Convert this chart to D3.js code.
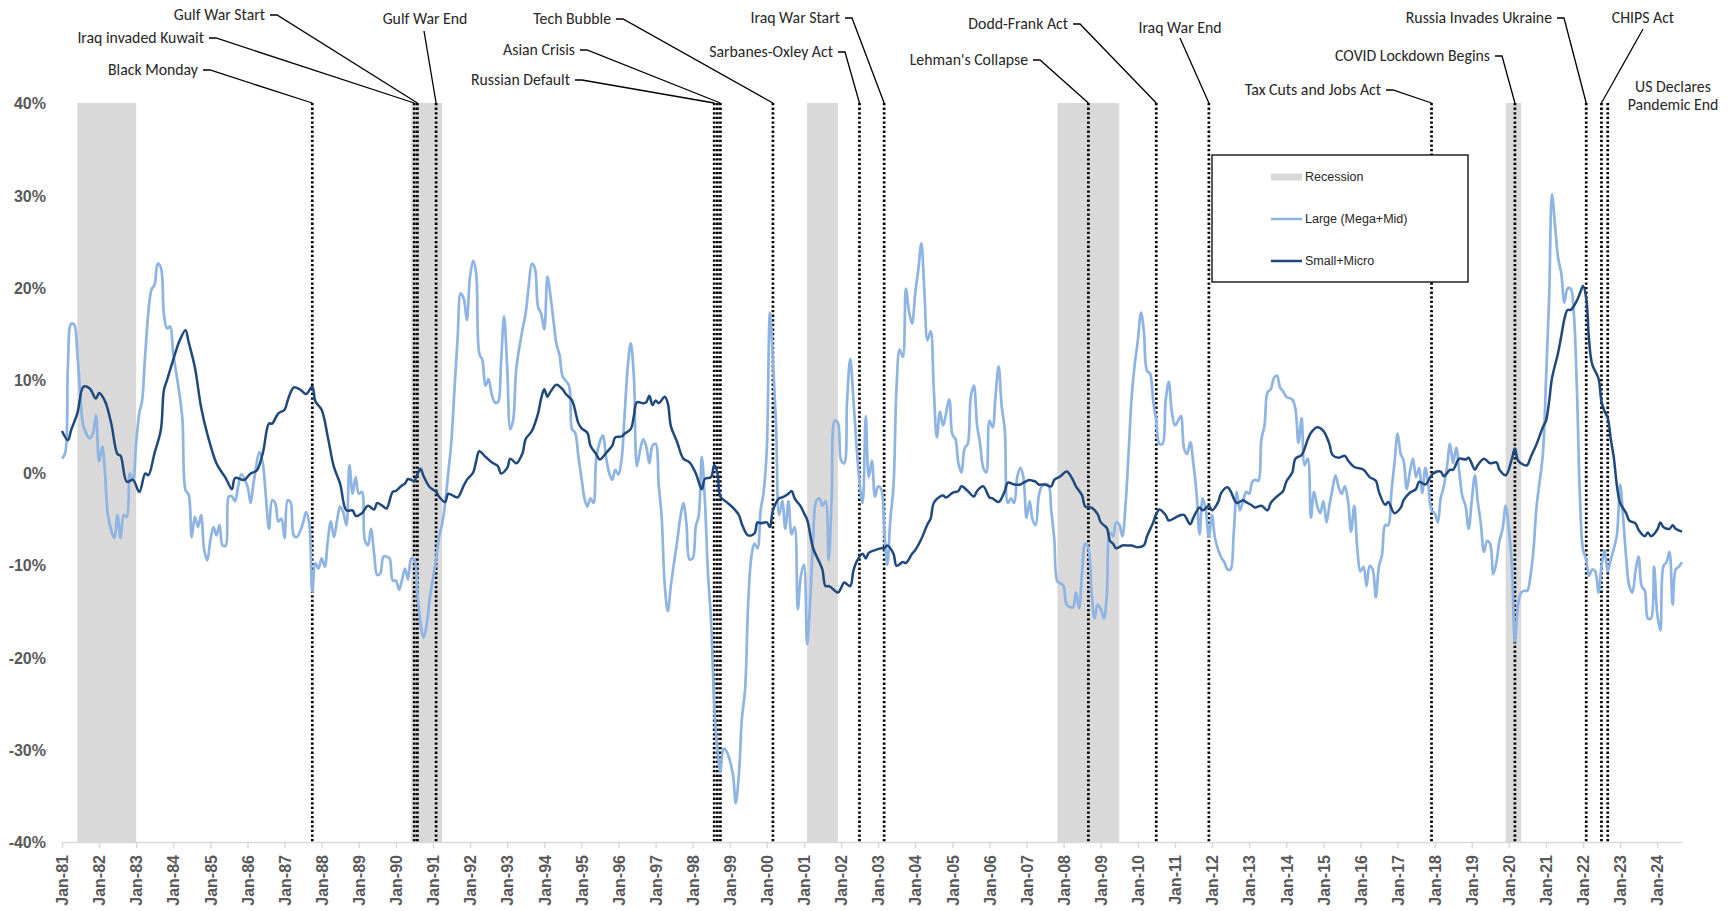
<!DOCTYPE html>
<html>
<head>
<meta charset="utf-8">
<script src="https://cdn.jsdelivr.net/npm/d3@7"></script>
<style>
  body { margin: 0; background: #fff; }
  .tick-label { font-family: "Liberation Sans", Arial, sans-serif; font-weight: bold; font-size: 16px; fill: #595959; }
  .note { font-family: Carlito, Lato, "Open Sans", sans-serif; font-size: 15.8px; fill: #262626; }
  .legend-text { font-family: "Liberation Sans", Arial, sans-serif; font-size: 12.5px; fill: #262626; }
</style>
</head>
<body>
<div id="chart"></div>
<script>
// series values: [months since Jan-81, % value]
const largeSeries = [[0,1.5],[1,2.1],[2,11.8],[3,16.1],[4,16.0],[5,12.9],[6,8.2],[7,5.0],[9,3.7],[10,4.2],[11,6.2],[12,1.2],[13,2.8],[14,-0.1],[15,-4.8],[17,-7.1],[18,-4.6],[19,-7.1],[20,-4.6],[21,-4.8],[22,-0.1],[23,-0.8],[24,3.2],[25,6.4],[26,7.8],[27,12.9],[29,19.8],[30,20.3],[31,22.6],[32,22.2],[33,17.2],[34,15.6],[35,15.8],[36,12.9],[38,8.6],[39,5.7],[40,-1.9],[41,-2.4],[42,-7.0],[43,-4.8],[44,-5.9],[45,-4.6],[46,-8.4],[47,-9.5],[48,-7.3],[49,-5.9],[50,-6.8],[51,-5.7],[52,-7.9],[53,-7.9],[54,-2.6],[55,-2.6],[56,-3.1],[57,-1.5],[58,-0.2],[60,-1.5],[61,-3.3],[62,-1.2],[64,2.2],[65,1.0],[66,-2.6],[67,-6.1],[68,-3.0],[69,-3.3],[70,-5.3],[71,-5.0],[72,-7.1],[73,-3.0],[74,-3.2],[75,-6.8],[76,-7.0],[78,-5.5],[79,-4.3],[80,-5.5],[81,-12.9],[82,-9.8],[83,-10.4],[84,-9.3],[85,-10.2],[86,-7.5],[87,-5.3],[88,-7.0],[89,-5.2],[90,-3.7],[91,-4.3],[92,-5.7],[93,0.8],[94,-2.3],[95,-0.5],[96,-2.3],[97,-2.1],[98,-7.3],[99,-7.9],[100,-6.1],[101,-8.8],[102,-11.1],[103,-10.9],[104,-9.1],[105,-9.1],[106,-9.3],[107,-11.7],[108,-11.7],[109,-12.7],[110,-11.7],[111,-10.4],[112,-11.6],[113,-9.3],[114,-9.4],[115,-13.1],[116,-16.4],[117,-17.9],[118,-16.4],[119,-13.6],[121,-9.4],[122,-7.0],[123,-5.6],[124,-3.3],[125,0.0],[126,3.3],[127,9.0],[128,14.6],[129,19.4],[130,18.8],[131,16.5],[132,21.2],[133,22.9],[134,21.6],[135,12.9],[136,12.2],[137,9.4],[138,10.1],[139,8.5],[140,7.6],[141,7.6],[142,11.8],[143,16.9],[144,11.3],[145,4.7],[146,5.7],[147,11.3],[149,15.5],[150,17.2],[151,20.2],[152,22.6],[153,22.1],[154,17.9],[155,17.2],[156,15.5],[157,21.2],[158,19.3],[159,16.5],[160,13.9],[161,12.7],[162,10.4],[164,9.4],[165,4.7],[166,4.3],[167,1.9],[168,-0.5],[169,-2.8],[170,-3.7],[171,-2.8],[172,-3.3],[173,1.9],[175,4.0],[176,1.7],[177,0.0],[178,-0.8],[179,0.3],[180,-0.2],[181,1.4],[182,6.1],[183,11.3],[184,14.0],[185,10.4],[186,0.7],[187,2.4],[188,3.6],[189,2.8],[190,1.0],[191,2.9],[192,3.1],[193,-1.4],[194,-4.7],[195,-12.2],[196,-15.0],[197,-12.2],[198,-9.8],[199,-7.5],[200,-4.9],[201,-3.3],[202,-5.6],[203,-9.4],[204,-9.3],[205,-5.8],[206,-4.7],[207,1.7],[208,-3.0],[209,-11.0],[210,-16.0],[211,-25.0],[212,-30.0],[213,-32.4],[214,-29.9],[215,-30.2],[217,-32.7],[218,-35.8],[219,-32.7],[220,-26.6],[221,-23.5],[222,-14.3],[223,-9.2],[224,-7.7],[225,-8.2],[226,-4.1],[227,-2.1],[228,2.6],[229,17.3],[230,12.3],[231,5.1],[232,-4.6],[233,-3.1],[234,-6.1],[235,-3.1],[236,-6.7],[237,-5.9],[238,-14.8],[239,-11.2],[240,-10.0],[241,-18.6],[242,-14.3],[243,-7.2],[244,-3.1],[245,-2.8],[246,-3.6],[247,-3.1],[248,-9.5],[249,-2.6],[250,5.6],[251,5.4],[252,1.3],[253,1.0],[254,7.7],[255,12.3],[256,8.2],[257,3.1],[258,-1.0],[259,-3.3],[260,6.1],[261,-0.5],[262,1.3],[263,-2.6],[264,-1.5],[265,-1.8],[266,-6.1],[267,-10.0],[268,-5.1],[269,-1.5],[270,9.2],[271,13.3],[272,12.5],[273,19.9],[274,17.4],[275,16.1],[276,19.4],[277,22.0],[278,24.8],[279,19.4],[280,14.3],[281,15.3],[282,9.2],[283,3.8],[284,6.6],[285,5.1],[287,7.9],[288,4.1],[289,3.6],[290,1.0],[291,0.0],[292,2.6],[293,3.1],[294,8.2],[295,9.4],[296,5.1],[297,3.1],[298,0.5],[299,0.0],[300,5.6],[301,4.9],[302,8.2],[303,11.5],[304,7.2],[305,4.6],[306,-3.3],[307,-2.8],[308,-3.3],[309,-0.5],[310,0.5],[311,-0.5],[312,-4.9],[313,-3.1],[314,-5.1],[315,-5.7],[316,-2.6],[317,-1.5],[319,-1.3],[320,-4.1],[321,-7.2],[322,-11.8],[323,-12.0],[324,-12.3],[325,-14.3],[327,-14.6],[328,-13.0],[329,-14.7],[330,-10.7],[331,-7.7],[332,-8.2],[333,-12.8],[334,-15.8],[335,-14.3],[336,-14.8],[337,-15.8],[338,-13.3],[339,-6.5],[340,-6.9],[341,-5.4],[342,-5.6],[343,-6.9],[344,-3.6],[345,2.0],[346,8.2],[347,11.7],[348,14.3],[349,17.3],[350,15.3],[351,11.0],[352,10.7],[353,7.7],[354,5.6],[355,3.1],[356,3.1],[357,7.7],[358,9.8],[359,6.6],[360,5.1],[361,5.6],[362,6.1],[363,2.6],[364,2.0],[365,3.3],[366,1.0],[367,-2.1],[368,-6.7],[369,-2.8],[370,-4.1],[371,-7.0],[372,-4.6],[373,-7.2],[375,-9.2],[376,-9.7],[377,-10.5],[378,-10.5],[379,-6.7],[380,-2.1],[381,-4.1],[382,-3.1],[383,-2.1],[384,-2.3],[385,-1.0],[386,-0.8],[387,-0.9],[388,3.6],[389,5.1],[390,8.7],[391,9.0],[392,10.2],[393,10.5],[394,9.2],[395,8.8],[396,8.2],[398,7.9],[399,6.9],[400,3.2],[401,5.9],[402,0.8],[403,1.5],[404,-4.9],[405,-2.1],[406,-3.6],[407,-4.4],[408,-3.1],[409,-5.4],[410,-3.6],[411,-1.8],[412,-0.3],[413,-1.6],[414,-2.3],[415,-1.5],[416,-3.1],[417,-6.4],[418,-3.6],[419,-8.2],[420,-10.7],[421,-10.2],[422,-12.3],[423,-10.1],[424,-10.5],[425,-13.5],[426,-10.2],[427,-8.9],[428,-5.7],[429,-5.7],[430,-2.1],[431,1.0],[432,4.2],[433,2.0],[434,1.3],[435,-1.8],[436,0.0],[437,1.5],[438,-0.5],[439,0.5],[440,-2.2],[441,0.5],[442,-1.5],[443,-4.1],[444,-4.4],[445,-5.4],[446,-2.8],[447,-1.5],[448,0.5],[449,3.1],[450,1.0],[451,2.7],[452,0.0],[453,-2.6],[454,-3.6],[455,-6.1],[456,-3.1],[457,-0.3],[458,-3.1],[459,-5.6],[460,-8.6],[461,-7.4],[462,-7.7],[463,-11.0],[464,-9.7],[465,-7.4],[466,-6.1],[467,-3.6],[468,-6.1],[469,-10.2],[470,-18.3],[471,-14.3],[472,-13.0],[473,-12.8],[474,-12.8],[475,-11.2],[476,-8.2],[477,-3.6],[479,2.0],[480,10.0],[481,18.9],[482,30.1],[483,26.6],[484,23.2],[485,21.5],[486,18.4],[487,19.9],[488,19.9],[489,17.4],[490,9.2],[491,-2.6],[492,-8.4],[493,-9.4],[494,-11.2],[495,-10.5],[496,-10.7],[497,-13.0],[498,-10.2],[499,-8.4],[500,-10.7],[501,-9.4],[502,-8.2],[503,-6.7],[504,-1.3],[505,-5.1],[506,-9.2],[507,-12.3],[508,-13.0],[509,-10.7],[510,-9.1],[511,-12.3],[512,-12.8],[513,-15.8],[514,-15.8],[515,-10.2],[516,-15.3],[517,-17.1],[518,-10.2],[519,-9.7],[520,-8.6],[521,-14.3],[522,-10.5],[523,-10.2],[524,-9.7]];

const smallSeries = [[0,4.5],[2,3.5],[3,4.6],[5,6.4],[7,9.3],[9,9.1],[11,8.0],[12,8.6],[14,7.7],[16,5.3],[18,2.0],[19,1.8],[21,-1.0],[23,-0.8],[25,-2.1],[27,-0.1],[28,-0.3],[30,2.1],[32,4.6],[33,8.9],[34,10.0],[37,13.3],[38,14.2],[40,15.4],[41,14.1],[43,11.4],[45,7.1],[47,4.2],[50,1.0],[52,-0.1],[53,-0.6],[55,-1.8],[56,-0.6],[59,-0.8],[61,-0.1],[63,0.2],[65,2.1],[67,5.3],[68,5.3],[70,6.4],[72,6.8],[73,7.8],[75,9.2],[77,9.0],[79,8.5],[81,9.3],[82,7.7],[84,6.8],[86,3.9],[88,0.6],[90,-1.2],[92,-4.1],[94,-4.1],[95,-4.7],[97,-4.4],[99,-3.6],[101,-4.0],[102,-3.3],[104,-3.7],[105,-3.9],[107,-2.1],[108,-2.0],[110,-1.4],[111,-1.2],[112,-0.7],[114,-0.9],[115,-0.2],[116,0.4],[117,-0.4],[119,-1.6],[121,-2.1],[122,-2.6],[124,-3.2],[125,-2.3],[127,-2.6],[128,-2.7],[130,-1.4],[131,-0.8],[133,0.0],[134,1.2],[135,2.3],[137,1.7],[139,1.1],[141,0.7],[142,-0.1],[144,0.5],[145,1.5],[147,1.0],[149,2.1],[150,3.6],[152,4.5],[154,6.4],[155,8.0],[156,9.0],[157,8.2],[158,8.7],[160,9.5],[162,9.0],[163,8.5],[165,7.8],[167,5.4],[168,4.8],[170,4.3],[171,2.9],[173,1.9],[174,1.4],[176,2.1],[178,2.9],[179,3.8],[181,3.9],[182,4.2],[184,4.7],[185,6.1],[186,7.6],[188,7.5],[189,7.6],[190,8.3],[191,7.3],[192,7.8],[193,7.5],[195,8.2],[196,7.5],[197,5.0],[199,3.3],[201,1.5],[203,1.1],[205,-0.1],[207,-1.8],[208,-0.7],[210,-0.5],[211,0.8],[212,0.0],[213,-2.6],[215,-3.2],[217,-3.8],[219,-4.6],[220,-5.6],[222,-6.8],[224,-6.6],[225,-5.4],[226,-5.5],[228,-5.4],[229,-5.9],[230,-4.1],[232,-2.8],[233,-2.7],[235,-2.3],[236,-2.0],[237,-2.8],[239,-3.7],[240,-4.4],[241,-5.1],[243,-8.2],[245,-9.7],[246,-10.5],[247,-12.3],[248,-12.3],[249,-12.5],[251,-13.0],[252,-12.5],[253,-11.9],[255,-12.3],[256,-10.7],[257,-9.7],[259,-8.8],[260,-9.3],[261,-8.7],[263,-8.4],[265,-8.2],[266,-8.2],[267,-7.9],[269,-8.8],[270,-10.1],[272,-9.7],[273,-9.8],[275,-8.8],[276,-8.4],[278,-7.2],[280,-5.6],[281,-5.0],[282,-3.3],[284,-2.6],[285,-2.5],[286,-2.7],[288,-2.2],[290,-2.0],[291,-1.5],[293,-2.0],[295,-2.6],[296,-2.0],[298,-1.5],[300,-2.7],[301,-2.8],[303,-3.2],[305,-2.0],[306,-1.1],[308,-1.3],[310,-1.3],[311,-1.1],[313,-0.8],[314,-0.9],[315,-1.0],[316,-1.3],[318,-1.3],[320,-1.5],[321,-0.8],[323,-0.4],[325,0.1],[327,-0.8],[328,-1.5],[330,-2.5],[331,-3.7],[333,-3.8],[335,-4.5],[336,-5.4],[338,-6.0],[339,-7.4],[340,-7.7],[341,-8.2],[343,-7.9],[345,-7.9],[346,-7.9],[348,-8.1],[350,-7.9],[351,-6.9],[353,-5.4],[354,-4.5],[355,-4.0],[357,-4.6],[358,-5.2],[360,-4.9],[362,-4.6],[363,-4.6],[365,-5.6],[366,-4.9],[368,-3.8],[369,-4.1],[371,-3.6],[372,-4.1],[374,-3.2],[375,-2.2],[377,-1.6],[378,-2.0],[380,-3.3],[382,-3.0],[383,-3.2],[385,-3.6],[386,-3.8],[388,-3.6],[390,-4.1],[391,-3.3],[393,-2.6],[395,-2.0],[396,-1.0],[398,0.0],[399,1.5],[401,1.9],[403,3.6],[404,4.3],[406,4.9],[408,4.5],[410,3.1],[411,1.9],[413,1.6],[415,1.8],[416,1.3],[418,0.6],[419,0.5],[421,0.3],[423,-0.5],[425,-0.9],[426,-2.1],[428,-3.5],[429,-3.2],[431,-4.4],[433,-3.8],[434,-3.0],[436,-2.2],[438,-1.8],[439,-1.0],[441,-1.3],[443,-0.3],[444,0.0],[446,0.1],[447,-0.4],[449,0.3],[450,0.3],[452,1.5],[454,1.4],[455,1.6],[457,0.3],[458,0.8],[460,1.5],[462,1.0],[464,1.1],[465,0.3],[467,-0.3],[469,1.5],[470,2.6],[471,1.3],[473,0.8],[474,0.8],[475,1.6],[477,3.1],[479,4.9],[480,5.6],[481,7.7],[482,10.2],[484,13.0],[485,14.8],[486,16.6],[487,17.6],[488,17.6],[490,18.6],[491,19.4],[492,20.2],[493,18.9],[494,14.3],[495,11.7],[497,10.2],[498,7.7],[499,6.6],[500,5.9],[501,3.6],[502,1.5],[503,-1.5],[504,-3.3],[506,-4.4],[507,-5.2],[509,-5.5],[510,-6.2],[512,-6.9],[513,-6.5],[514,-6.9],[516,-6.2],[517,-5.4],[518,-5.9],[520,-6.1],[521,-5.7],[522,-6.1],[524,-6.4]];

const seriesNames = ["Large (Mega+Mid)", "Small+Micro"];

// recession months as shaded on the chart (first month, last month)
const recessionStarts = ["1981-06", "1990-06", "2001-02", "2007-11", "2019-12"];
const recessionEnds   = ["1982-12", "1991-03", "2001-11", "2009-06", "2020-04"];

// event markers
const eventDates = ["1987-10", "1990-07", "1990-08", "1991-02", "1998-08", "1998-09", "1998-10", "2000-03",
    "2002-07", "2003-03", "2008-09", "2010-07", "2011-12", "2017-12", "2020-03", "2022-02", "2022-07", "2022-09"];
const eventLabels = ["Black Monday", "Iraq invaded Kuwait", "Gulf War Start", "Gulf War End", "Russian Default", "",
    "Asian Crisis", "Tech Bubble", "Sarbanes-Oxley Act", "Iraq War Start", "Lehman's Collapse", "Dodd-Frank Act",
    "Iraq War End", "Tax Cuts and Jobs Act", "COVID Lockdown Begins", "Russia Invades Ukraine", "CHIPS Act",
    "US Declares Pandemic End"];

const yTickValues = [-40, -30, -20, -10, 0, 10, 20, 30, 40];
const firstTickYear = 1981, lastTickYear = 2024;

// label placement (layout only): side = text then a leader to the right, above = leader from under the text
const labelLayout = {
    "Black Monday":           { kind: "side", x: 198, y: 69 },
    "Iraq invaded Kuwait":    { kind: "side", x: 204, y: 37 },
    "Gulf War Start":         { kind: "side", x: 265, y: 14 },
    "Gulf War End":           { kind: "above", x: 425, y: 18, lx: 424, ly: 31 },
    "Russian Default":        { kind: "side", x: 570, y: 79 },
    "Asian Crisis":           { kind: "side", x: 575, y: 49 },
    "Tech Bubble":            { kind: "side", x: 611, y: 18 },
    "Sarbanes-Oxley Act":     { kind: "side", x: 833, y: 51 },
    "Iraq War Start":         { kind: "side", x: 840, y: 17 },
    "Lehman's Collapse":      { kind: "side", x: 1028, y: 59 },
    "Dodd-Frank Act":         { kind: "side", x: 1068, y: 23 },
    "Iraq War End":           { kind: "above", x: 1180, y: 27, lx: 1180, ly: 38 },
    "Tax Cuts and Jobs Act":  { kind: "side", x: 1381, y: 89 },
    "COVID Lockdown Begins":  { kind: "side", x: 1490, y: 55 },
    "Russia Invades Ukraine": { kind: "side", x: 1552, y: 17 },
    "CHIPS Act":              { kind: "above", x: 1643, y: 17, lx: 1643, ly: 29 },
    "US Declares Pandemic End": { kind: "wrap", x: 1673, y: 86 }
};

const width = 1734, height = 911;
const margin = { top: 103, right: 52, bottom: 69, left: 62 };

const parseMonth = d3.timeParse("%Y-%m");
const start = new Date(1981, 0, 1);
const monthDate = m => d3.timeMonth.offset(start, m);

// Set the ranges
const x = d3.scaleTime()
    .domain([start, new Date(2024, 8, 1)])
    .range([margin.left, width - margin.right]);
const y = d3.scaleLinear()
    .domain([-40, 40])
    .range([height - margin.bottom, margin.top]);

const svg = d3.select("#chart").append("svg")
    .attr("width", width)
    .attr("height", height)
    .style("display", "block");

svg.append("rect").attr("width", width).attr("height", height).attr("fill", "#fff");

// recession shading
svg.append("g").selectAll("rect")
    .data(recessionStarts.map((s, i) => ({ s: parseMonth(s), e: d3.timeMonth.offset(parseMonth(recessionEnds[i]), 1) })))
    .join("rect")
    .attr("x", d => x(d.s))
    .attr("width", d => x(d.e) - x(d.s))
    .attr("y", y(40))
    .attr("height", y(-40) - y(40))
    .attr("fill", "#d9d9d9");

// x axis
const xAxis = svg.append("g")
    .attr("transform", "translate(0," + y(-40) + ")")
    .call(d3.axisBottom(x)
        .tickValues(d3.range(firstTickYear, lastTickYear + 1).map(yr => new Date(yr, 0, 1)))
        .tickFormat(d3.timeFormat("Jan-%y"))
        .tickSize(6)
        .tickSizeOuter(0));
xAxis.select(".domain").attr("stroke", "#d9d9d9").attr("stroke-width", 1.5);
xAxis.selectAll(".tick line").attr("stroke", "#d9d9d9").attr("stroke-width", 1.5);
xAxis.selectAll(".tick text")
    .attr("class", "tick-label")
    .attr("transform", "rotate(-90)")
    .attr("x", -13)
    .attr("y", 0)
    .attr("dy", "0.36em")
    .style("text-anchor", "end");

// y axis (labels only)
const yAxis = svg.append("g")
    .attr("transform", "translate(" + margin.left + ",0)")
    .call(d3.axisLeft(y).tickValues(yTickValues).tickFormat(d => d + "%").tickSize(0).tickPadding(16));
yAxis.select(".domain").remove();
yAxis.selectAll(".tick text").attr("class", "tick-label").attr("dy", "0.36em");

// event lines
const events = eventDates.map((d, i) => ({ date: parseMonth(d), label: eventLabels[i] }));
svg.append("g").selectAll("line")
    .data(events)
    .join("line")
    .attr("x1", d => x(d.date)).attr("x2", d => x(d.date))
    .attr("y1", y(40)).attr("y2", y(-40))
    .attr("stroke", "#000")
    .attr("stroke-width", 2.7)
    .attr("stroke-dasharray", "2.3,2.3");

// labels and leaders
const notes = svg.append("g");
events.filter(d => d.label).forEach(d => {
    const lay = labelLayout[d.label];
    const lx = x(d.date), top = y(40);
    if (lay.kind === "side") {
        notes.append("text").attr("class", "note")
            .attr("x", lay.x).attr("y", lay.y).attr("dy", "0.35em")
            .attr("text-anchor", "end").text(d.label);
        notes.append("polyline")
            .attr("points", [[lay.x + 5, lay.y + 1], [lay.x + 12, lay.y + 1], [lx, top]].join(" "))
            .attr("fill", "none").attr("stroke", "#000").attr("stroke-width", 1.3);
    } else if (lay.kind === "above") {
        notes.append("text").attr("class", "note")
            .attr("x", lay.x).attr("y", lay.y).attr("dy", "0.35em")
            .attr("text-anchor", "middle").text(d.label);
        notes.append("line")
            .attr("x1", lay.lx).attr("y1", lay.ly).attr("x2", lx).attr("y2", top)
            .attr("stroke", "#000").attr("stroke-width", 1.3);
    } else {
        const t = notes.append("text").attr("class", "note")
            .attr("x", lay.x).attr("y", lay.y).attr("text-anchor", "middle");
        t.append("tspan").attr("x", lay.x).attr("dy", "0.35em").text("US Declares");
        t.append("tspan").attr("x", lay.x).attr("dy", "1.2em").text("Pandemic End");
    }
});

// Define the lines
const line = d3.line()
    .x(d => x(monthDate(d[0])))
    .y(d => y(d[1]))
    .curve(d3.curveCatmullRom.alpha(0.5));

svg.append("path")
    .datum(largeSeries)
    .attr("d", line)
    .attr("fill", "none")
    .attr("stroke", "#8db4e2")
    .attr("stroke-width", 2.7);

svg.append("path")
    .datum(smallSeries)
    .attr("d", line)
    .attr("fill", "none")
    .attr("stroke", "#1f497d")
    .attr("stroke-width", 2.5);

// legend
const legend = svg.append("g").attr("transform", "translate(1212,155)");
legend.append("rect")
    .attr("width", 256).attr("height", 127)
    .attr("fill", "#fff").attr("stroke", "#000").attr("stroke-width", 1.3);
legend.append("rect").attr("x", 59).attr("y", 18.5).attr("width", 31).attr("height", 7).attr("fill", "#d9d9d9");
legend.append("line").attr("x1", 59).attr("x2", 90).attr("y1", 64).attr("y2", 64)
    .attr("stroke", "#8db4e2").attr("stroke-width", 2.5);
legend.append("line").attr("x1", 59).attr("x2", 90).attr("y1", 106).attr("y2", 106)
    .attr("stroke", "#1f497d").attr("stroke-width", 2.5);
["Recession"].concat(seriesNames).forEach((name, i) => {
    legend.append("text").attr("class", "legend-text")
        .attr("x", 93).attr("y", 22 + i * 42).attr("dy", "0.35em").text(name);
});
</script>
</body>
</html>
